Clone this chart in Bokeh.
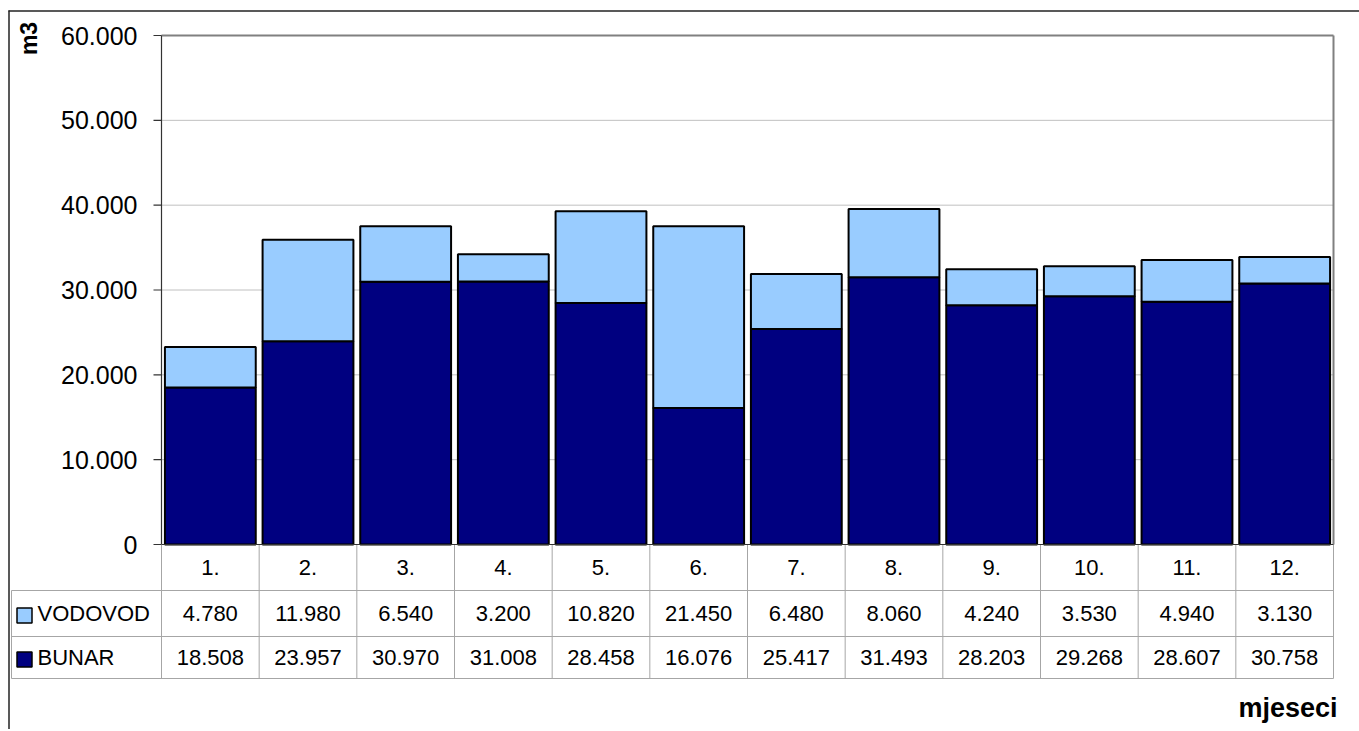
import math
from bokeh.plotting import figure
from bokeh.models import ColumnDataSource, Range1d
from bokeh.core.properties import value
from bokeh.embed import file_html
from bokeh.resources import INLINE

# ---------------- data ----------------
months = ["1.", "2.", "3.", "4.", "5.", "6.", "7.", "8.", "9.", "10.", "11.", "12."]
vodovod = [4780, 11980, 6540, 3200, 10820, 21450, 6480, 8060, 4240, 3530, 4940, 3130]
bunar = [18508, 23957, 30970, 31008, 28458, 16076, 25417, 31493, 28203, 29268, 28607, 30758]
y_ticks = [0, 10000, 20000, 30000, 40000, 50000, 60000]
series_names = ["VODOVOD", "BUNAR"]
y_title = "m3"
x_title = "mjeseci"

def fmt(v):
    return f"{v:,}".replace(",", ".")

FONT = value("Liberation Sans")
NAVY = "#000080"
LIGHT = "#99CCFF"
TABLE_LINE = "#a6a6a6"

# ---------------- layout (page pixels) ----------------
OFF = 0                                  # canvas origin on the screenshot
W, H = 1359, 729
PL, PR, PT, PB = 161, 1333, 35, 544      # plot area
ROWS = [544, 590, 636, 678]              # table row boundaries
TL = 11                                  # table left edge
n = len(months)
cw = (PR - PL) / n
k = (PB - PT) / y_ticks[-1]

def dx(px):
    return 0.5 + (px - PL) / cw

def dy(py):
    return (PB - py) / k

p = figure(width=W, height=H, x_range=Range1d(dx(OFF), dx(OFF + W)),
           y_range=Range1d(dy(OFF + H), dy(OFF)),
           x_axis_location=None, y_axis_location=None,
           toolbar_location=None, output_backend="svg", min_border=0,
           outline_line_color=None, background_fill_color="white",
           border_fill_color="white")
p.grid.visible = False

xs = list(range(1, n + 1))
total = [a + b for a, b in zip(bunar, vodovod)]
src = ColumnDataSource(dict(x=xs, bunar=bunar, vodovod=vodovod, total=total,
                            lab=months, vs=[fmt(v) for v in vodovod],
                            bs=[fmt(v) for v in bunar]))

# outer chart border (top and left visible)
p.segment(x0=[dx(8), dx(8.5)], y0=[dy(10.5), dy(10)], x1=[dx(1365), dx(8.5)],
          y1=[dy(10.5), dy(745)], line_color="#222222", line_width=1.5)

# gridlines
inner = y_ticks[1:-1]
p.segment(x0=[0.5] * len(inner), y0=inner, x1=[n + 0.5] * len(inner), y1=inner,
          line_color="#c0c0c0", line_width=1)
# plot area top/right border
p.segment(x0=[0.5, n + 0.5], y0=[y_ticks[-1], y_ticks[-1]], x1=[n + 0.5, n + 0.5],
          y1=[y_ticks[-1], 0], line_color="#808080", line_width=2)

# bars
p.vbar(x="x", bottom=0, top="bunar", width=0.93, source=src, fill_color=NAVY,
       line_color="black", line_width=2)
p.vbar(x="x", bottom="bunar", top="total", width=0.93, source=src, fill_color=LIGHT,
       line_color="black", line_width=2)

# y axis line + ticks + labels
p.segment(x0=[0.5], y0=[0], x1=[0.5], y1=[y_ticks[-1]], line_color="#333333", line_width=1.2)
p.ray(x=[0.5] * len(y_ticks), y=y_ticks, length=8, length_units="screen", angle=math.pi,
      line_color="#333333", line_width=1.2)
p.text(x=[0.5] * len(y_ticks), y=y_ticks, text=[fmt(t) if t else "0" for t in y_ticks],
       x_offset=-24, text_align="right", text_baseline="middle", text_font=FONT,
       text_font_size="25px", text_color="black")

# table grid
nv = n + 1
vx = [0.5 + i for i in range(nv)]
p.segment(x0=vx, y0=[dy(ROWS[0])] * nv, x1=vx, y1=[dy(ROWS[-1])] * nv,
          line_color=TABLE_LINE, line_width=1)
p.segment(x0=[dx(TL)] * 3, y0=[dy(r) for r in ROWS[1:]], x1=[n + 0.5] * 3,
          y1=[dy(r) for r in ROWS[1:]], line_color=TABLE_LINE, line_width=1)
p.segment(x0=[dx(TL)], y0=[dy(ROWS[1])], x1=[dx(TL)], y1=[dy(ROWS[-1])],
          line_color=TABLE_LINE, line_width=1)
# x axis line
p.segment(x0=[0.5], y0=[0], x1=[n + 0.5], y1=[0], line_color="#333333", line_width=1.2)

# table texts
rc = [(ROWS[i] + ROWS[i + 1]) / 2 for i in range(3)]
p.text(x="x", y=dy(rc[0]), text="lab", source=src, text_align="center",
       text_baseline="middle", text_font=FONT, text_font_size="22px", text_color="black")
p.text(x="x", y=dy(rc[1]), text="vs", source=src, text_align="center",
       text_baseline="middle", text_font=FONT, text_font_size="22px", text_color="black")
p.text(x="x", y=dy(rc[2]), text="bs", source=src, text_align="center",
       text_baseline="middle", text_font=FONT, text_font_size="22px", text_color="black")

# legend keys + names in table
p.scatter(x=[dx(24), dx(24)], y=[dy(rc[1] + 2), dy(rc[2] + 2)], marker="square", size=15,
          fill_color=[LIGHT, NAVY], line_color="black", line_width=1.5)
p.text(x=[dx(37), dx(37)], y=[dy(rc[1]), dy(rc[2])], text=series_names,
       text_align="left", text_baseline="middle", text_font=FONT,
       text_font_size="22px", text_color="black")

# axis titles
p.text(x=[dx(28)], y=[dy(38)], text=[y_title], angle=math.pi / 2, text_align="center",
       text_baseline="middle", text_font=FONT, text_font_size="23px",
       text_font_style="bold", text_color="black")
p.text(x=[dx(1337)], y=[dy(707)], text=[x_title], text_align="right",
       text_baseline="middle", text_font=FONT, text_font_size="27px",
       text_font_style="bold", text_color="black")

open("out.html", "w").write(file_html(p, INLINE))
